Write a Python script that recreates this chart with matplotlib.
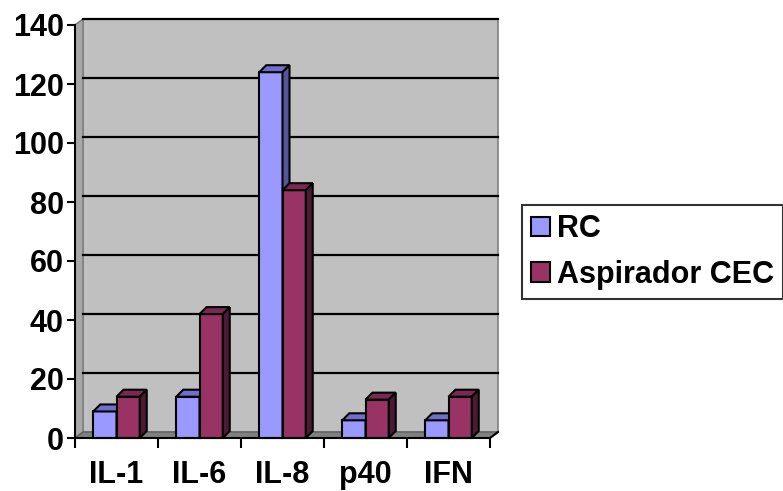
import matplotlib.pyplot as plt
from matplotlib.patches import Polygon, Patch

categories = ['IL-1', 'IL-6', 'IL-8', 'p40', 'IFN']
rc = [9, 14, 124, 6, 6]
aspirador = [14, 42, 84, 13, 14]
series_names = ['RC', 'Aspirador CEC']
yticks = [0, 20, 40, 60, 80, 100, 120, 140]

plt.rcParams['font.family'] = ['Liberation Sans', 'DejaVu Sans']
plt.rcParams['font.weight'] = 'bold'
FS = 22

W, H = 783, 491
fig = plt.figure(figsize=(W / 100, H / 100), dpi=100)
ax_l, ax_r, ax_t, ax_b = 75, 490, 25, 438
ax = fig.add_axes([ax_l / W, (H - ax_b) / H, (ax_r - ax_l) / W, (ax_b - ax_t) / H])
xmin, xmax, ymin, ymax = -0.5, len(categories) - 0.5, 0, 140
ax.set_xlim(xmin, xmax)
ax.set_ylim(ymin, ymax)

# pixel -> data offsets for the fake 3d depth
px_x = (xmax - xmin) / (ax_r - ax_l)
px_y = (ymax - ymin) / (ax_b - ax_t)
dx, dy = 8 * px_x, 6 * px_y
bdx, bdy = 7 * px_x, 7 * px_y


def poly(pts, fc, ec='black', z=2, lw=1.5):
    ax.add_patch(Polygon(pts, closed=True, facecolor=fc, edgecolor=ec,
                         linewidth=lw, zorder=z, clip_on=False))


# back wall, side wall, floor
poly([(xmin + dx, dy), (xmax + dx, dy), (xmax + dx, ymax + dy), (xmin + dx, ymax + dy)],
     '#C0C0C0', ec='#808080', z=0, lw=1.2)
poly([(xmin, 0), (xmin + dx, dy), (xmin + dx, ymax + dy), (xmin, ymax)],
     '#A8A8A8', ec='#808080', z=0.5, lw=1.2)
poly([(xmin, 0), (xmax, 0), (xmax + dx, dy), (xmin + dx, dy)],
     '#808080', ec='#606060', z=0.5, lw=1)
for v in yticks[1:]:
    ax.plot([xmin + dx, xmax + dx], [v + dy, v + dy], color='black', lw=1.6,
            zorder=1, clip_on=False)
ax.plot([xmax, xmax + dx], [0, dy], color='black', lw=1.5, clip_on=False, zorder=5)

w = 0.28
colors = [('#9999FF', '#7070CC', '#55559A'), ('#993366', '#7A2952', '#4D1A33')]
for i in range(len(categories)):
    for j, vals in enumerate([rc, aspirador]):
        x0 = i - w + j * w
        v = vals[i]
        front, top, side = colors[j]
        ax.bar(x0, v, w, align='edge', color=front, edgecolor='black',
               linewidth=1.5, zorder=3 + 2 * i + j, clip_on=False)
        poly([(x0, v), (x0 + w, v), (x0 + w + bdx, v + bdy), (x0 + bdx, v + bdy)],
             top, z=3 + 2 * i + j)
        poly([(x0 + w, 0), (x0 + w + bdx, bdy), (x0 + w + bdx, v + bdy), (x0 + w, v)],
             side, z=3 + 2 * i + j)

for s in ['top', 'right']:
    ax.spines[s].set_visible(False)
for s in ['left', 'bottom']:
    ax.spines[s].set_linewidth(1.5)
    ax.spines[s].set_zorder(20)
ax.set_facecolor('none')

ax.set_yticks(yticks)
ax.set_yticklabels([str(t) for t in yticks], fontsize=FS, fontweight='bold')
ax.tick_params(axis='y', direction='out', length=6, width=1.5, pad=2)
ax.set_xticks([k - 0.5 for k in range(len(categories) + 1)])
ax.set_xticklabels([])
ax.tick_params(axis='x', which='major', direction='out', length=7, width=1.5)
ax.set_xticks(range(len(categories)), minor=True)
ax.set_xticklabels(categories, minor=True, fontsize=FS, fontweight='bold')
ax.tick_params(axis='x', which='minor', length=0, pad=16)

handles = [Patch(facecolor=colors[k][0], edgecolor='black', linewidth=1.5)
           for k in range(2)]
leg = fig.legend(handles, series_names, loc='center left',
                 bbox_to_anchor=(522 / W, 1 - 252 / H), frameon=True,
                 fancybox=False, prop={'size': FS, 'weight': 'bold'},
                 handlelength=0.6, handleheight=0.6, handletextpad=0.25,
                 borderpad=0.3, labelspacing=0.5, borderaxespad=0)
leg.get_frame().set_edgecolor('black')
leg.get_frame().set_linewidth(1.5)

fig.savefig('out.png', dpi=100)
